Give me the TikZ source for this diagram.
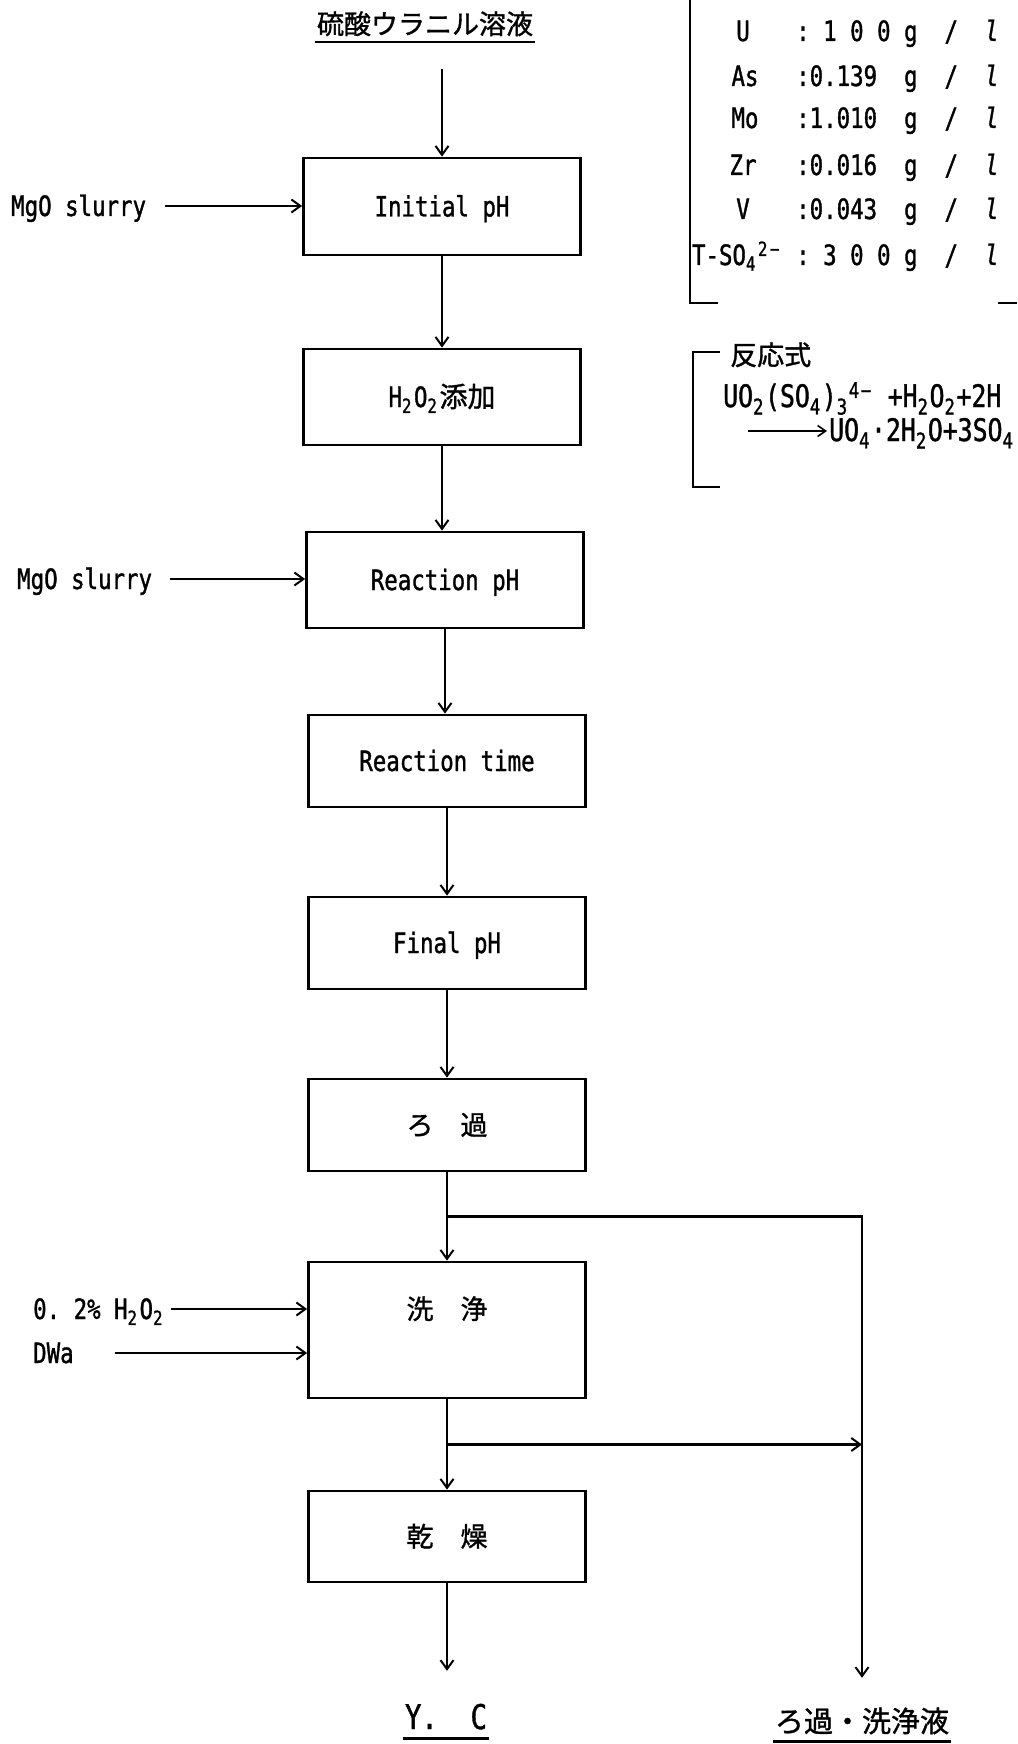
\documentclass[tikz,border=0pt]{standalone}
\usepackage{fontspec}
\newfontfamily\lat{DejaVu Sans Mono}[FakeStretch=0.8,FakeBold=1.2]
\newfontfamily\jp{Noto Sans CJK JP}[FakeBold=1.2]
\usetikzlibrary{arrows.meta,calc}

\newcommand{\chsub}[1]{\makebox[12pt][l]{\textsubscript{#1}}}
\newcommand{\chsup}[1]{\makebox[12pt][l]{\textsuperscript{#1}}}

\begin{document}
\begin{tikzpicture}[x=1pt,y=-1pt,
  every node/.style={font=\lat\fontsize{28}{32}\selectfont,inner sep=2pt,text height=20pt,text depth=0pt},
  jtext/.style={font=\jp\fontsize{27}{32}\selectfont},
  formula/.style={font=\lat\fontsize{31}{34}\selectfont},
  procbox/.style={draw,line width=2.8pt,minimum width=277pt,minimum height=92pt,inner sep=0pt},
  flow/.style={line width=2.2pt,-{Straight Barb[length=9pt,width=13pt,line width=2pt]}},
  rule/.style={line width=2.6pt}]
\useasboundingbox (0,0) rectangle (1017,1744);
\clip (0,0) rectangle (1017,1744);

% main column
\node[jtext] (title) at (425,24) {硫酸ウラニル溶液};
\node[procbox,minimum height=97pt] (box1) at (442,206.5) {Initial pH};
\node[procbox,minimum height=96pt] (box2) at (442,397) {H\chsub{2}O\chsub{2}{\jp 添加}};
\node[procbox,minimum height=96pt] (box3) at (445,580) {Reaction pH};
\node[procbox] (box4) at (447,761) {Reaction time};
\node[procbox] (box5) at (447,943) {Final pH};
\node[procbox,jtext] (box6) at (447,1125) {ろ　過};
\node[procbox,jtext,minimum height=136pt,text depth=42pt] (box7) at (447,1330) {洗　浄};
\node[procbox,jtext,minimum height=91pt] (box8) at (447,1536.5) {乾　燥};
\node[font=\lat\fontsize{34}{38}\selectfont] (yc) at (446,1719) {Y.~~C};
\node[font=\jp\fontsize{29}{32}\selectfont] (filtrate) at (862,1722) {ろ過・洗浄液};

% feeds from the left
\node[anchor=west] (mgo1) at (9,206) {MgO slurry};
\node[anchor=west] (mgo2) at (15,579) {MgO slurry};
\node[anchor=west] (h2o2) at (31,1309) {0.~2\%~H\chsub{2}O\chsub{2}};
\node[anchor=west] (dwa) at (31,1353) {DWa};
\draw[flow,shorten <=17pt] (mgo1.east) -- (box1.west |- mgo1.east);
\draw[flow,shorten <=16pt] (mgo2.east) -- (box3.west |- mgo2.east);
\draw[flow,shorten <=4pt] (h2o2.east) -- (box7.west |- h2o2.east);
\draw[flow,shorten <=39pt] (dwa.east) -- (box7.west |- dwa.east);

% flow arrows
\draw[flow,shorten <=33pt] (box1.north |- title.south) -- (box1.north);
\draw[flow] (box1.south) -- (box1.south |- box2.north);
\draw[flow] (box2.south) -- (box2.south |- box3.north);
\draw[flow] (box3.south) -- (box3.south |- box4.north);
\draw[flow] (box4.south) -- (box5.north);
\draw[flow] (box5.south) -- (box6.north);
\draw[flow] (box6.south) -- (box7.north);
\draw[flow] (box7.south) -- (box8.north);
\draw[flow,shorten >=36pt] (box8.south) -- (box8.south |- yc.north);

% filtrate and wash liquor
\coordinate (j1) at ($(box6.south)!.5!(box7.north)$);
\coordinate (j2) at ($(box7.south)!.5!(box8.north)$);
\draw[flow,shorten >=32pt] (j1) -| (filtrate.north);
\draw[flow] (j2) -- (j2 -| filtrate.north);

% underlines
\draw[rule] ([yshift=-6pt]title.south west) -- ([yshift=-6pt]title.south east);
\draw[rule] ([yshift=-7pt]yc.south west) -- ([yshift=-7pt]yc.south east);
\draw[rule] ([yshift=-7pt]filtrate.south west) -- ([yshift=-7pt]filtrate.south east);

% composition
\draw[rule] (690,0) -- (690,303) -- (718,303);
\draw[rule] (998,303) -- (1017,303);
\node (elU) at (743,31) {U};
\node[anchor=west] (valU) at (794,31) {:~1~0~0~g~~/~~\textit{l}};
\node (elAs) at (745,76) {As};
\node[anchor=west] (valAs) at (794,76) {:0.139~~g~~/~~\textit{l}};
\node (elMo) at (745,118) {Mo};
\node[anchor=west] (valMo) at (794,118) {:1.010~~g~~/~~\textit{l}};
\node (elZr) at (743,165) {Zr};
\node[anchor=west] (valZr) at (794,165) {:0.016~~g~~/~~\textit{l}};
\node (elV) at (743,209) {V};
\node[anchor=west] (valV) at (794,209) {:0.043~~g~~/~~\textit{l}};
\node (elSO) at (737,255) {T-SO\chsub{4}\chsup{2}\chsup{−}};
\node[anchor=west] (valSO) at (794,255) {:~3~0~0~g~~/~~\textit{l}};

% reaction
\draw[rule] (720,352) -- (693,352) -- (693,487) -- (720,487);
\node[jtext,anchor=west] (rxtitle) at (728,355) {反応式};
\node[formula,anchor=west] (rxleft) at (721,397) {UO\chsub{2}(SO\chsub{4})\chsub{3}\chsup{4}\chsup{−}~+H\chsub{2}O\chsub{2}+2H};
\coordinate (rxstart) at (748,431);
\node[formula,anchor=west] (rxright) at (827,431) {UO\chsub{4}·2H\chsub{2}O+3SO\chsub{4}};
\draw[line width=1.6pt,-{Straight Barb[length=8pt,width=11pt]}] (rxstart) -- (rxright.west);
\end{tikzpicture}
\end{document}
